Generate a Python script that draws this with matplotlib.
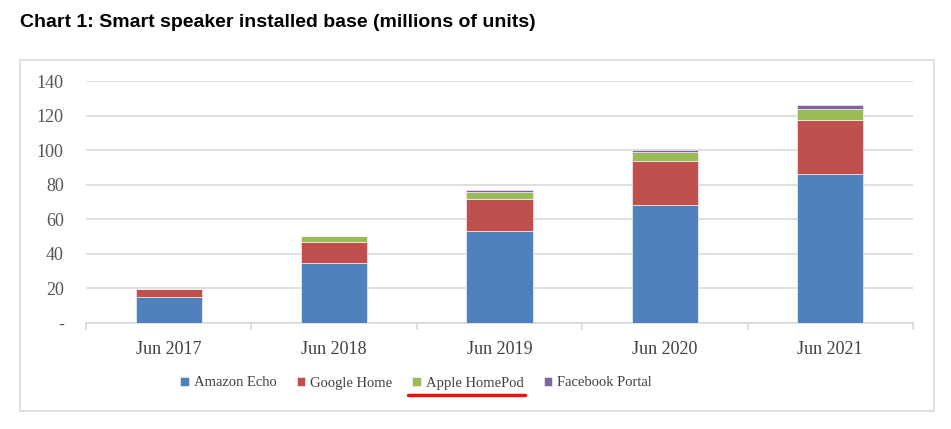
import matplotlib.pyplot as plt
from matplotlib.patches import Rectangle
from matplotlib.lines import Line2D
import numpy as np

# installed base, millions of units
periods = ['Jun 2017', 'Jun 2018', 'Jun 2019', 'Jun 2020', 'Jun 2021']
amazon_echo = [15.0, 35.0, 53.2, 68.2, 86.0]
google_home = [4.8, 12.0, 18.7, 25.7, 31.6]
apple_homepod = [0.0, 3.3, 3.6, 4.8, 6.4]
facebook_portal = [0.0, 0.0, 1.4, 1.3, 2.3]
series_names = ['Amazon Echo', 'Google Home', 'Apple HomePod', 'Facebook Portal']
yticks = [0, 20, 40, 60, 80, 100, 120, 140]
ytick_labels = ['-', '20', '40', '60', '80', '100', '120', '140']

colors = ['#4F81BD', '#C0504D', '#9BBB59', '#8064A2']
W, H = 951, 429

fig = plt.figure(figsize=(W / 100, H / 100), dpi=100)
ax = fig.add_axes([86 / W, 1 - 323 / H, (913 - 86) / W, (323 - 81) / H])

x = np.arange(len(periods))
bottom = np.zeros(len(periods))
for name, vals, c in zip(series_names, [amazon_echo, google_home, apple_homepod, facebook_portal], colors):
    ax.bar(x, vals, width=0.4, bottom=bottom, color=c, label=name, zorder=3,
           edgecolor='white', linewidth=0.4)
    bottom = bottom + np.array(vals)

ax.set_xlim(-0.5, len(periods) - 0.5)
ax.set_ylim(0, 140)
ax.set_yticks(yticks)
ax.set_yticklabels(ytick_labels)
ax.set_xticks(x)
ax.set_xticklabels(periods)
ax.set_xticks(np.arange(-0.5, len(periods)), minor=True)

ax.grid(axis='y', color='#D9D9D9', linewidth=1.2, zorder=0)
for s in ['top', 'right', 'left']:
    ax.spines[s].set_visible(False)
ax.spines['bottom'].set_color('#D9D9D9')
ax.spines['bottom'].set_linewidth(1.2)

ax.tick_params(axis='y', length=0, pad=16, labelcolor='#555555', labelsize=13)
ax.tick_params(axis='x', which='major', length=0, pad=13, labelcolor='#404040', labelsize=13)
ax.tick_params(axis='x', which='minor', length=5, width=1.2, color='#D9D9D9')
for lbl in ax.get_xticklabels() + ax.get_yticklabels():
    lbl.set_fontfamily('Liberation Serif')

# outer frame of the chart box
fig.patches.append(Rectangle((20 / W, 1 - 411 / H), (934 - 20) / W, (411 - 60) / H,
                             transform=fig.transFigure, fill=False,
                             edgecolor='#DDDDDD', linewidth=1.3))

fig.text(20 / W, 1 - 27 / H, 'Chart 1: Smart speaker installed base (millions of units)',
         family='Liberation Sans', weight='bold', size=14, ha='left', va='baseline')

leg = fig.legend(loc='center', bbox_to_anchor=(416 / W, 1 - 383 / H), ncol=4, frameon=False,
                 handlelength=0.6, handleheight=0.6, handletextpad=0.3, columnspacing=1.4,
                 prop=dict(family='Liberation Serif', size=10.5))
for t in leg.get_texts():
    t.set_color('#404040')

# red underline below the Apple HomePod legend entry
fig.canvas.draw()
renderer = fig.canvas.get_renderer()
bb = leg.get_texts()[2].get_window_extent(renderer)
hb = leg.legend_handles[2].get_window_extent(renderer)
x0 = hb.x0 - 4
x1 = bb.x1 + 2
yline = bb.y0 - 5
fig.add_artist(Line2D([x0 / W, x1 / W], [yline / H, yline / H], transform=fig.transFigure,
                      color='#EE1111', linewidth=2.5, solid_capstyle='round'))

fig.savefig('out.png', dpi=100)
